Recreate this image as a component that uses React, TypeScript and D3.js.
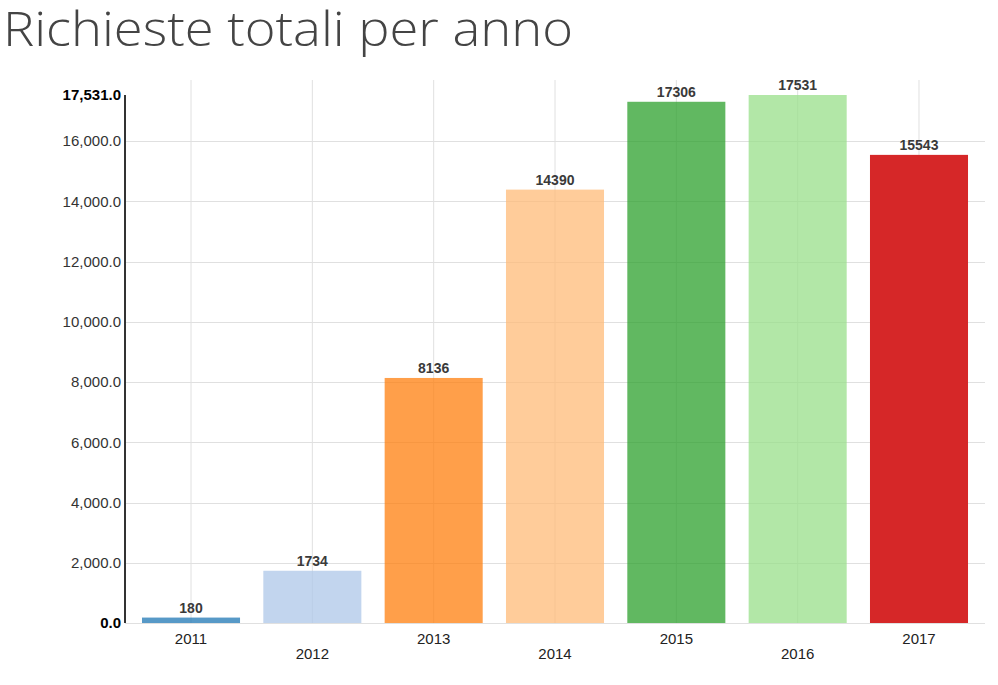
import React from "react";
import * as d3 from "d3";

const years = ["2011", "2012", "2013", "2014", "2015", "2016", "2017"];
const values = [180, 1734, 8136, 14390, 17306, 17531, 15543];
const yTicks = [2000, 4000, 6000, 8000, 10000, 12000, 14000, 16000];
const colors = ["#1f77b4", "#aec7e8", "#ff7f0e", "#ffbb78", "#2ca02c", "#98df8a", "#d62728"];
const highlighted = "2017";

export default function App() {
  const W = 998, H = 685;
  const left = 125, right = 985, top = 95, bottom = 623;
  const maxV = d3.max(values) as number;
  const y = d3.scaleLinear().domain([0, maxV]).range([bottom, top]);
  const x = d3.scaleBand<string>().domain(years).range([left, right]).paddingInner(0.192).paddingOuter(0.14);
  const fmt = d3.format(",.1f");
  const font = "'Liberation Sans', Arial, sans-serif";
  return (
    <svg width={W} height={H} style={{ position: "absolute", left: 0, top: 0, background: "#fff" }}>
      <text
        x={3}
        y={46}
        fontFamily="'Open Sans', Lato, sans-serif"
        fontWeight={300}
        fontSize={48}
        fill="#444"
        textLength={570}
        lengthAdjust="spacingAndGlyphs"
      >
        Richieste totali per anno
      </text>
      {/* vertical grid */}
      {years.map((yr) => {
        const cx = (x(yr) as number) + x.bandwidth() / 2;
        return <line key={"v" + yr} x1={cx} x2={cx} y1={80} y2={bottom} stroke="#e0e0e0" strokeWidth={1} />;
      })}
      {/* horizontal grid */}
      {[0, ...yTicks].map((t) => (
        <line key={"h" + t} x1={left} x2={right} y1={Math.round(y(t)) + 0.5} y2={Math.round(y(t)) + 0.5} stroke="#e0e0e0" strokeWidth={1} />
      ))}
      {/* bars */}
      {years.map((yr, i) => (
        <rect
          key={"b" + yr}
          x={x(yr)}
          y={y(values[i])}
          width={x.bandwidth()}
          height={bottom - y(values[i])}
          fill={colors[i]}
          fillOpacity={yr === highlighted ? 1 : 0.75}
        />
      ))}
      {/* value labels */}
      {years.map((yr, i) => (
        <text
          key={"l" + yr}
          x={(x(yr) as number) + x.bandwidth() / 2}
          y={y(values[i]) - 5}
          textAnchor="middle"
          fontFamily={font}
          fontWeight="bold"
          fontSize={14}
          fill="#3a3a3a"
        >
          {values[i]}
        </text>
      ))}
      {/* y axis */}
      <line x1={left} x2={left} y1={top} y2={bottom} stroke="#333" strokeWidth={2} />
      {yTicks.map((t) => (
        <text key={"yt" + t} x={121} y={y(t)} dy="0.35em" textAnchor="end" fontFamily={font} fontSize={15} fill="#333">
          {fmt(t)}
        </text>
      ))}
      <text x={121} y={y(maxV)} dy="0.35em" textAnchor="end" fontFamily={font} fontWeight="bold" fontSize={15} fill="#000">
        {fmt(maxV)}
      </text>
      <text x={121} y={y(0)} dy="0.35em" textAnchor="end" fontFamily={font} fontWeight="bold" fontSize={15} fill="#000">
        {fmt(0)}
      </text>
      {/* x axis labels */}
      {years.map((yr, i) => (
        <text
          key={"xt" + yr}
          x={(x(yr) as number) + x.bandwidth() / 2}
          y={i % 2 === 0 ? 644 : 659}
          textAnchor="middle"
          fontFamily={font}
          fontSize={15}
          fill="#222"
        >
          {yr}
        </text>
      ))}
    </svg>
  );
}
